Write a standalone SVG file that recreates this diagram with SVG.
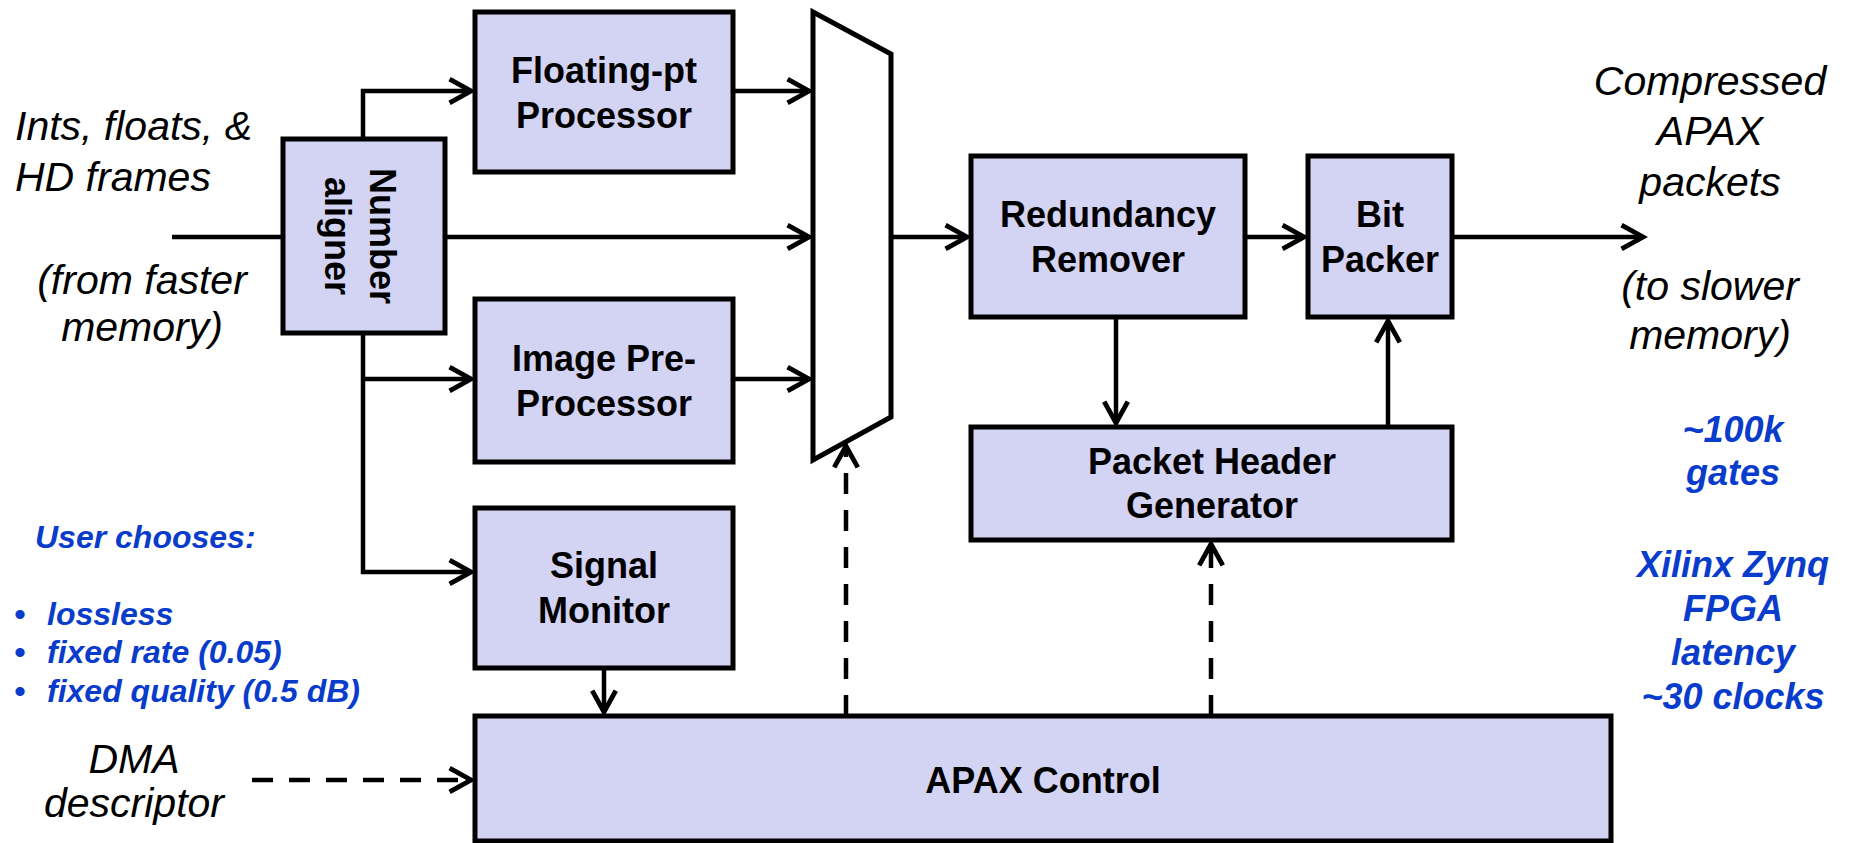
<svg xmlns="http://www.w3.org/2000/svg" width="1854" height="843" viewBox="0 0 1854 843">
  <style>
    .box { fill: #D3D3F3; stroke: #000; stroke-width: 5; }
    .mux { fill: #FFFFFF; stroke: #000; stroke-width: 5; stroke-linejoin: miter; }
    .lbl { font-family: "Liberation Sans", Arial, sans-serif; font-weight: bold; font-size: 36px; fill: #000; text-anchor: middle; }
    .note { font-family: "Liberation Sans", Arial, sans-serif; font-style: italic; font-size: 41px; fill: #000; }
    .mid { text-anchor: middle; }
    .blue { font-family: "Liberation Sans", Arial, sans-serif; font-style: italic; font-weight: bold; fill: #0A3CCC; }
    .wire { fill: none; stroke: #000; stroke-width: 4.5; }
    .dash { stroke-dasharray: 21 16; }
  </style>
  <defs>
    <marker id="arrow" markerUnits="userSpaceOnUse" markerWidth="30" markerHeight="30" viewBox="-24 -14 28 28" refX="0" refY="0" orient="auto" overflow="visible">
      <path d="M-20,-11 L0,0 L-20,11" fill="none" stroke="#000" stroke-width="4.5" stroke-dasharray="none"/>
    </marker>
  </defs>

  <rect width="1854" height="843" fill="#FFFFFF"/>

  <!-- connectors -->
  <g id="connectors">
    <line class="wire" x1="172" y1="237" x2="283" y2="237"/>
    <line class="wire" x1="445" y1="237" x2="809" y2="237" marker-end="url(#arrow)"/>
    <path class="wire" d="M363,139 V91 H471" marker-end="url(#arrow)"/>
    <path class="wire" d="M363,333 V572 H471" marker-end="url(#arrow)"/>
    <path class="wire" d="M363,379 H471" marker-end="url(#arrow)"/>
    <line class="wire" x1="733" y1="91" x2="809" y2="91" marker-end="url(#arrow)"/>
    <line class="wire" x1="733" y1="379" x2="809" y2="379" marker-end="url(#arrow)"/>
    <line class="wire" x1="891" y1="237" x2="967" y2="237" marker-end="url(#arrow)"/>
    <line class="wire" x1="1245" y1="237" x2="1304" y2="237" marker-end="url(#arrow)"/>
    <line class="wire" x1="1452" y1="237" x2="1643" y2="237" marker-end="url(#arrow)"/>
    <line class="wire" x1="1116" y1="317" x2="1116" y2="423" marker-end="url(#arrow)"/>
    <line class="wire" x1="1388" y1="427" x2="1388" y2="321" marker-end="url(#arrow)"/>
    <line class="wire" x1="604" y1="668" x2="604" y2="712" marker-end="url(#arrow)"/>
    <line class="wire dash" x1="846" y1="716" x2="846" y2="446" marker-end="url(#arrow)"/>
    <line class="wire dash" x1="1211" y1="716" x2="1211" y2="544" marker-end="url(#arrow)"/>
    <line class="wire dash" x1="252" y1="780" x2="471" y2="780" marker-end="url(#arrow)"/>
  </g>

  <!-- processing blocks -->
  <g id="number-aligner">
    <rect class="box" x="283" y="139" width="162" height="194"/>
    <g transform="translate(364,236) rotate(90)">
      <text class="lbl" x="0" y="-6">Number</text>
      <text class="lbl" x="0" y="39">aligner</text>
    </g>
  </g>

  <g id="floating-pt-processor">
    <rect class="box" x="475" y="12" width="258" height="160"/>
    <text class="lbl" x="604" y="83">Floating-pt</text>
    <text class="lbl" x="604" y="128">Processor</text>
  </g>

  <g id="image-preprocessor">
    <rect class="box" x="475" y="299" width="258" height="163"/>
    <text class="lbl" x="604" y="371">Image Pre-</text>
    <text class="lbl" x="604" y="416">Processor</text>
  </g>

  <g id="signal-monitor">
    <rect class="box" x="475" y="508" width="258" height="160"/>
    <text class="lbl" x="604" y="578">Signal</text>
    <text class="lbl" x="604" y="623">Monitor</text>
  </g>

  <g id="mux">
    <polygon class="mux" points="813,12 891,54 891,417 813,460"/>
  </g>

  <g id="redundancy-remover">
    <rect class="box" x="971" y="156" width="274" height="161"/>
    <text class="lbl" x="1108" y="227">Redundancy</text>
    <text class="lbl" x="1108" y="272">Remover</text>
  </g>

  <g id="bit-packer">
    <rect class="box" x="1308" y="156" width="144" height="161"/>
    <text class="lbl" x="1380" y="227">Bit</text>
    <text class="lbl" x="1380" y="272">Packer</text>
  </g>

  <g id="packet-header-generator">
    <rect class="box" x="971" y="427" width="481" height="113"/>
    <text class="lbl" x="1212" y="474">Packet Header</text>
    <text class="lbl" x="1212" y="518">Generator</text>
  </g>

  <g id="apax-control">
    <rect class="box" x="475" y="716" width="1136" height="125"/>
    <text class="lbl" x="1043" y="793">APAX Control</text>
  </g>

  <!-- input / output annotations -->
  <g id="input-label">
    <text class="note" x="15" y="140">Ints, floats, &amp;</text>
    <text class="note" x="15" y="191">HD frames</text>
    <text class="note mid" x="142" y="294">(from faster</text>
    <text class="note mid" x="142" y="341">memory)</text>
  </g>

  <g id="output-label">
    <text class="note mid" x="1710" y="95">Compressed</text>
    <text class="note mid" x="1710" y="145">APAX</text>
    <text class="note mid" x="1710" y="196">packets</text>
    <text class="note mid" x="1710" y="300">(to slower</text>
    <text class="note mid" x="1710" y="349">memory)</text>
  </g>

  <g id="dma-label">
    <text class="note mid" x="134" y="773" font-size="35">DMA</text>
    <text class="note mid" x="134" y="817" font-size="35">descriptor</text>
  </g>

  <g id="user-options" font-size="32">
    <text class="blue" x="35" y="548">User chooses:</text>
    <text class="blue" x="14" y="625">•</text>
    <text class="blue" x="47" y="625">lossless</text>
    <text class="blue" x="14" y="663">•</text>
    <text class="blue" x="47" y="663">fixed rate (0.05)</text>
    <text class="blue" x="14" y="702">•</text>
    <text class="blue" x="47" y="702">fixed quality (0.5 dB)</text>
  </g>

  <g id="implementation-notes" font-size="36">
    <text class="blue mid" x="1733" y="442">~100k</text>
    <text class="blue mid" x="1733" y="485">gates</text>
    <text class="blue mid" x="1733" y="577">Xilinx Zynq</text>
    <text class="blue mid" x="1733" y="621">FPGA</text>
    <text class="blue mid" x="1733" y="665">latency</text>
    <text class="blue mid" x="1733" y="709">~30 clocks</text>
  </g>
</svg>
